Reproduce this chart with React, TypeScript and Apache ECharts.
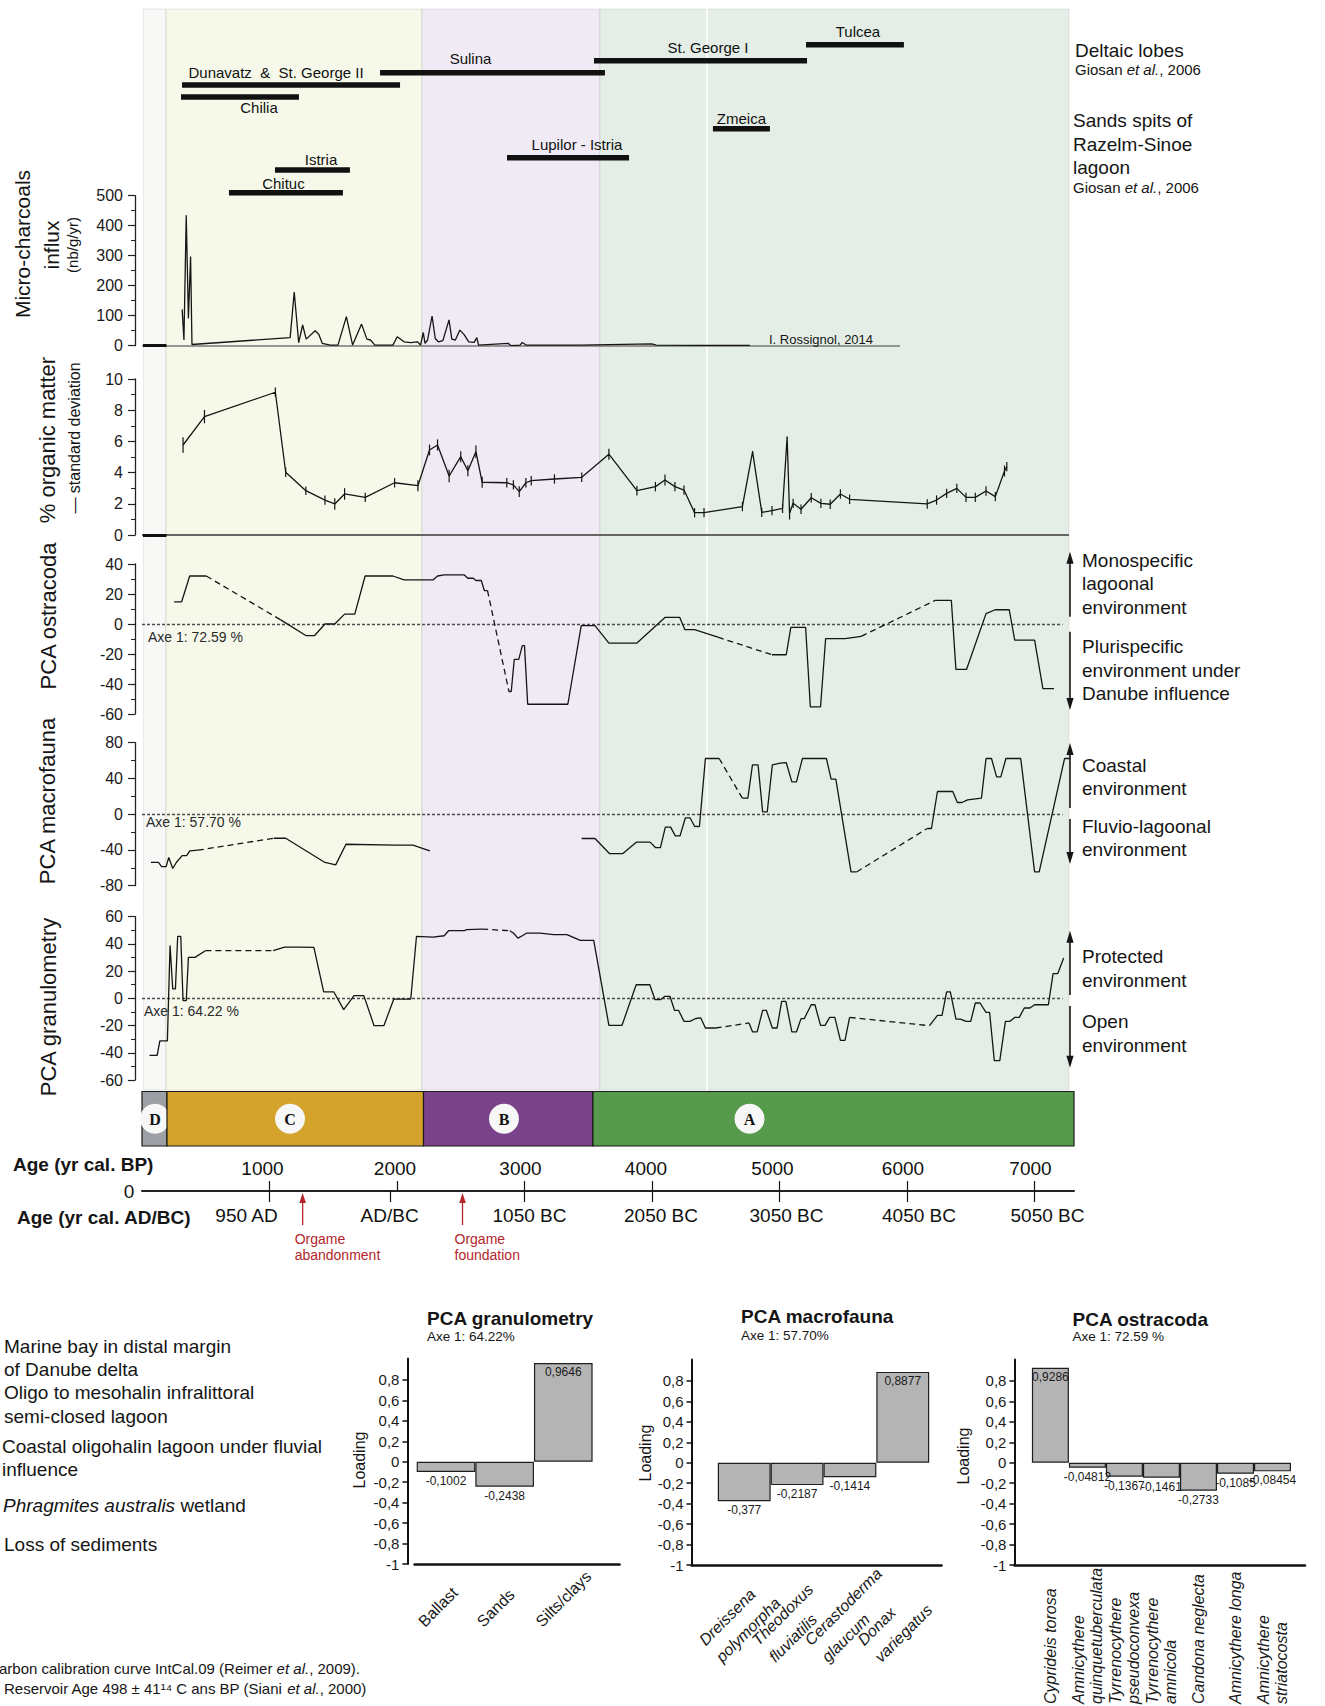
import React, { useEffect, useRef } from 'react';
import * as echarts from 'echarts';

const FONT = '"Liberation Sans", Arial, Helvetica, sans-serif';
const SERIF = '"Liberation Serif", "Times New Roman", serif';
const W = 1325;
const H = 1706;
const AGE_MIN = 0;
const AGE_MAX = 7310;

// ---------------- Deltaic lobes / sand spits (yr cal. BP) ----------------
const lobeNames = ['Dunavatz  &  St. George II', 'Chilia', 'Sulina', 'St. George I', 'Tulcea', 'Zmeica', 'Lupilor - Istria', 'Istria', 'Chituc'];
const lobeStart = [314, 306, 1867, 3545, 5208, 4478, 2863, 1043, 682];
const lobeEnd = [2024, 1231, 3631, 5216, 5976, 4925, 3820, 1631, 1576];

// ---------------- Zones ----------------
const zoneNames = ['D', 'C', 'B', 'A'];
const zoneStart = [0, 196, 2208, 3537];
const zoneEnd = [196, 2208, 3537, 7310];
const zoneLabelAge = [102, 1161, 2839, 4765];
const panelStart = [13, 188, 2196, 3592];
const panelEnd = [188, 2196, 3592, 7271];
const panelDividerAge = 4431;

// ---------------- Archaeological events ----------------
const eventAge = [1260, 2514];
const eventText = [['Orgame', 'abandonment'], ['Orgame', 'foundation']];

// ---------------- Micro-charcoals influx ----------------
const charAge = [315, 329, 347, 364, 381, 392, 1162, 1194, 1229, 1260, 1288, 1358, 1386, 1414, 1477, 1537, 1603, 1652, 1722, 1764, 1792, 1827, 1968, 2002, 2055, 2107, 2160, 2185, 2206, 2220, 2240, 2275, 2300, 2324, 2360, 2408, 2430, 2458, 2493, 2528, 2563, 2605, 2626, 2640, 2871, 2896, 2965, 2983, 3012, 3438, 3998, 4033, 4400, 4768];
const charVal = [121, 19, 435, 91, 297, 4, 27, 179, 10, 69, 22, 50, 38, 8, 2, 2, 97, 2, 72, 22, 19, 2, 2, 30, 13, 10, 13, 2, 44, 8, 19, 99, 24, 13, 17, 86, 22, 19, 52, 36, 13, 11, 27, 2, 8, 0, 2, 11, 2, 2, 6, 2, 1, 1];
const charBaselineEnd = 5945;

// ---------------- % organic matter ----------------
const omAge = [322, 490, 1046, 1127, 1285, 1435, 1512, 1589, 1751, 1981, 2164, 2255, 2318, 2409, 2500, 2556, 2619, 2668, 2861, 2913, 2959, 3011, 3053, 3235, 3449, 3662, 3882, 4027, 4102, 4180, 4251, 4334, 4408, 4709, 4789, 4861, 4941, 5024, 5060, 5079, 5107, 5169, 5249, 5325, 5398, 5478, 5550, 6159, 6232, 6311, 6391, 6463, 6536, 6620, 6693, 6765, 6783];
const omVal = [5.77, 7.59, 9.15, 4.02, 2.84, 2.24, 1.99, 2.63, 2.41, 3.35, 3.16, 5.45, 5.77, 3.78, 5.02, 4.12, 5.34, 3.38, 3.35, 3.21, 2.78, 3.35, 3.48, 3.59, 3.7, 5.18, 2.84, 3.1, 3.53, 3.1, 2.88, 1.43, 1.43, 1.82, 5.34, 1.45, 1.56, 1.71, 6.26, 1.39, 2.03, 1.65, 2.39, 2.03, 1.97, 2.63, 2.29, 1.99, 2.24, 2.67, 2.99, 2.41, 2.41, 2.82, 2.46, 4.1, 4.38];
const omSd = [0.5, 0.43, 0.3, 0.3, 0.27, 0.3, 0.37, 0.37, 0.3, 0.3, 0.35, 0.35, 0.36, 0.4, 0.35, 0.35, 0.4, 0.35, 0.3, 0.3, 0.35, 0.3, 0.3, 0.3, 0.3, 0.35, 0.3, 0.3, 0.35, 0.3, 0.3, 0.3, 0.3, 0.3, 0.05, 0.3, 0.3, 0.3, 0.05, 0.4, 0.3, 0.3, 0.3, 0.3, 0.3, 0.3, 0.3, 0.3, 0.3, 0.3, 0.3, 0.3, 0.3, 0.3, 0.3, 0.35, 0.3];
const omLineEnd = 7271;

// ---------------- PCA ostracoda ----------------
const ostAge = [252, 311, 374, 504, 1085, 1285, 1354, 1435, 1512, 1589, 1669, 1750, 1968, 2055, 2282, 2318, 2370, 2528, 2556, 2598, 2619, 2661, 2685, 2710, 2878, 2896, 2920, 2955, 2983, 3000, 3025, 3340, 3445, 3553, 3662, 3880, 4102, 4218, 4258, 4334, 4517, 4941, 5053, 5089, 5205, 5242, 5322, 5362, 5514, 5641, 6221, 6348, 6384, 6467, 6620, 6692, 6802, 6845, 7001, 7066, 7153];
const ostVal = [14.8, 14.8, 32, 32, 2.9, -7.7, -7.7, 0, 0, 6.6, 6.6, 32, 32, 29.4, 29.4, 32, 32.7, 32.7, 30.5, 30.5, 29, 29, 22.3, 22.3, -45, -45, -23.6, -23.6, -14.4, -14.4, -53.5, -53.5, -1.1, -1.1, -12.8, -12.8, 4.4, 4.4, -3.8, -3.8, -8.8, -20.5, -20.5, -2.2, -2.2, -55.2, -55.2, -9.7, -9.7, -8.2, 15.7, 15.7, -30.3, -30.3, 6.9, 9.5, 9.5, -10.8, -10.8, -43.1, -43.1];
const ostDashed = [3, 23, 40, 49];

// ---------------- PCA macrofauna ----------------
const macAge = [70, 129, 154, 189, 210, 241, 269, 315, 350, 375, 438, 1033, 1127, 1435, 1519, 1600, 1985, 2125, 2258, 3449, 3553, 3666, 3772, 3879, 3985, 4027, 4066, 4105, 4146, 4183, 4220, 4262, 4298, 4334, 4372, 4419, 4527, 4709, 4752, 4788, 4832, 4868, 4904, 4944, 5006, 5053, 5097, 5133, 5180, 5368, 5405, 5442, 5561, 5605, 6159, 6192, 6239, 6359, 6395, 6431, 6475, 6584, 6620, 6663, 6703, 6736, 6776, 6892, 7001, 7037, 7236, 7280];
const macVal = [-54, -54, -58.6, -58.6, -48.5, -60.8, -54, -46.3, -46.3, -41, -40.3, -26.9, -26.9, -54, -56.7, -33.6, -34.7, -34.7, -41, -27.2, -27.2, -44, -44, -31.2, -31.2, -37.3, -37.3, -14.5, -14.5, -24.3, -24.3, -4, -4, -13.5, -13.8, 62.3, 62.3, 17.9, 17.9, 55.2, 55.2, 2.6, 2.6, 55.2, 57.1, 57.8, 36.2, 36.2, 62.3, 62.3, 39.2, 39.2, -64.6, -64.6, -16, -16, 25.4, 25.4, 13.1, 13.1, 16, 17.9, 62.3, 62.3, 41.8, 41.8, 62.3, 62.3, -64.6, -64.6, 62.3, 62.3];
const macDashed = [10, 36, 53];
const macGaps = [18];

// ---------------- PCA granulometry ----------------
const granAge = [59, 119, 140, 199, 220, 241, 262, 280, 304, 322, 347, 364, 416, 497, 1029, 1117, 1225, 1348, 1425, 1505, 1582, 1663, 1740, 1820, 1897, 1975, 2108, 2153, 2282, 2370, 2405, 2528, 2545, 2668, 2885, 2913, 2948, 2983, 3018, 3123, 3228, 3333, 3438, 3543, 3662, 3765, 3876, 3983, 4024, 4066, 4102, 4141, 4177, 4209, 4251, 4298, 4343, 4383, 4419, 4499, 4761, 4789, 4825, 4868, 4897, 4944, 4981, 5017, 5050, 5097, 5133, 5169, 5194, 5249, 5278, 5322, 5357, 5394, 5434, 5478, 5514, 5550, 6177, 6239, 6275, 6311, 6340, 6384, 6420, 6463, 6500, 6536, 6573, 6620, 6648, 6685, 6728, 6772, 6808, 6845, 6881, 6920, 6964, 7001, 7109, 7146, 7182, 7229];
const granVal = [-41.9, -41.9, -31.3, -31.3, 38.9, 6.9, 6.9, 45.6, 45.6, -1.7, -1.7, 30.1, 30.1, 35, 35, 37.7, 37.7, 37.5, 4.7, 4.7, -8.3, 2, 2, -20.1, -20.1, -0.5, -0.5, 45.6, 45, 46, 49.7, 49.7, 50.5, 50.9, 49.7, 48, 44.3, 46, 48, 48, 46.8, 46.8, 42.6, 42.6, -19.8, -19.8, 10, 10, -1, -1, 1.5, 1.5, -8.9, -8.9, -16.9, -16.9, -14.8, -14.4, -21.8, -21.8, -18.1, -24.7, -24.7, -8.8, -8.8, -21.8, -21.8, -2.2, -2.2, -24.7, -24.7, -14.9, -14.9, -4.7, -4.7, -19.8, -19.8, -14, -14, -30.9, -30.9, -14, -20.1, -12.5, -12.5, 4.7, 4.7, -15.2, -15.2, -16.9, -16.9, -3.4, -3.4, -10.3, -10.3, -45.8, -45.8, -16.9, -16.9, -14, -14, -7.1, -7.1, -4.7, -4.7, 18.1, 18.1, 29.6];
const granDashed = [13, 33, 59, 81];
const pcaZeroEnd = 7220;

// ---------------- Age axis ----------------
const bpTicks = [1000, 2000, 3000, 4000, 5000, 6000, 7000];
const calTicks = [1000, 1950, 3000, 4000, 5000, 6000, 7000];
const calLabels = ['950 AD', 'AD/BC', '1050 BC', '2050 BC', '3050 BC', '4050 BC', '5050 BC'];

// ---------------- PCA loadings ----------------
const loadingTicks = [-1, -0.8, -0.6, -0.4, -0.2, 0, 0.2, 0.4, 0.6, 0.8];
const granCats = ['Ballast', 'Sands', 'Silts/clays'];
const granLoad = [-0.1002, -0.2438, 0.9646];
const macroCats = ['Dreissena\npolymorpha', 'Theodoxus\nfluviatilis', 'Cerastoderma\nglaucum', 'Donax\nvariegatus'];
const macroLoad = [-0.377, -0.2187, -0.1414, 0.8877];
const ostraCats = ['Cyprideis torosa', 'Amnicythere\nquinquetuberculata', 'Tyrrenocythere\npseudoconvexa', 'Tyrrenocythere\namnicola', 'Candona neglecta', 'Amnicythere longa', 'Amnicythere\nstriatocosta'];
const ostraLoad = [0.9286, -0.04812, -0.1367, -0.1461, -0.2733, -0.1085, -0.08454];

// ---------------- Layout (pixels) ----------------
const lobeRowY = [85, 97, 72.7, 60.7, 44.7, 128.7, 157.7, 170, 192.7];
const lobeLabelDx = [-15, 19, -22, 7.5, 3, 0, 9, 8.5, -2.5];
const lobeLabelDy = [-13, 10, -14.7, -13, -13, -10.7, -13.7, -11, -9.7];
const bpLabelShift = [-7, -2, -4, -6, -7, -4, -4];
const calLabelShift = [-23, -1, 5, 9, 7, 12, 13];
const zoneColors = ['#9c9fa3', '#d4a32c', '#7a4389', '#569b4b'];
const panelColors = ['#f8f8f7', '#f6f9ea', '#efeaf3', '#e4eee7'];
const PANEL_TOP = 9;
const PANEL_BOTTOM = 1090;
const ZONE_TOP = 1091.5;
const ZONE_BOTTOM = 1146;

function splitLine(ages: number[], vals: number[], dashed: number[], gaps: number[] = []) {
  const solid: any[] = [];
  const dash: any[] = [];
  for (let i = 0; i < ages.length; i++) {
    solid.push([ages[i], vals[i]]);
    if (i < ages.length - 1 && (dashed.includes(i) || gaps.includes(i))) solid.push([ages[i], '-']);
  }
  dashed.forEach((i) => {
    dash.push([ages[i], vals[i]], [ages[i + 1], vals[i + 1]], [ages[i + 1], '-']);
  });
  return { solid, dash };
}

const INK = '#151515';

function txt(x: number, y: number, text: string, o: any = {}) {
  return {
    type: 'text',
    x,
    y,
    rotation: o.rot || 0,
    z: 100,
    silent: true,
    style: {
      text,
      fill: o.color || INK,
      fontSize: o.size || 19,
      fontFamily: o.family || FONT,
      fontWeight: o.weight || 'normal',
      fontStyle: o.italic ? 'italic' : 'normal',
      textAlign: o.align || 'left',
      textVerticalAlign: 'middle',
      rich: o.rich,
    },
  };
}

function arrow(x: number, tip: number, tail: number) {
  const dir = tip < tail ? 1 : -1;
  return [
    { type: 'line', z: 100, silent: true, shape: { x1: x, y1: tip + dir * 8, x2: x, y2: tail }, style: { stroke: INK, lineWidth: 1.6 } },
    { type: 'polygon', z: 100, silent: true, shape: { points: [[x, tip], [x - 3.6, tip + dir * 12], [x + 3.6, tip + dir * 12]] }, style: { fill: INK } },
  ];
}

// rich styles that nudge each age label sideways (padding on one side shifts a centred label)
function shiftRich(shifts: number[]) {
  const rich: any = {};
  shifts.forEach((s, k) => {
    rich['s' + k] = { fontSize: 19, fontFamily: FONT, color: '#111', padding: s < 0 ? [0, -2 * s, 0, 0] : [0, 0, 0, 2 * s] };
  });
  return rich;
}

function buildOption() {
  const ost = splitLine(ostAge, ostVal, ostDashed);
  const mac = splitLine(macAge, macVal, macDashed, macGaps);
  const gran = splitLine(granAge, granVal, granDashed);

  const G = (left: number, top: number, width: number, height: number) => ({ left, top, width, height, containLabel: false, outerBoundsMode: 'none' });
  const hiddenX = (gi: number) => ({ gridIndex: gi, type: 'value', min: AGE_MIN, max: AGE_MAX, show: false });
  const panelY = (gi: number, min: number, max: number, interval: number) => ({
    gridIndex: gi, type: 'value', min, max, interval, offset: 7,
    axisLine: { show: true, onZero: false, lineStyle: { color: '#222', width: 1.3 } },
    axisTick: { show: true, length: 7, lineStyle: { color: '#222', width: 1.2 } },
    minorTick: { show: true, splitNumber: 2, length: 4, lineStyle: { color: '#222', width: 1 } },
    splitLine: { show: false }, minorSplitLine: { show: false },
    axisLabel: { fontSize: 16, color: '#1a1a1a', margin: 12, fontFamily: FONT },
  });
  const comma = (v: number) => String(Math.round(v * 10) / 10).replace('.', ',');
  const loadY = (gi: number, offset: number) => ({
    gridIndex: gi, type: 'value', min: -1, max: 1.01, offset,
    axisLine: { show: true, onZero: false, lineStyle: { color: '#111', width: 2 } },
    axisTick: { show: true, length: 5, customValues: loadingTicks, lineStyle: { color: '#111', width: 1.5 } },
    axisLabel: { customValues: loadingTicks, formatter: comma, fontSize: 15, color: '#1a1a1a', margin: 8, fontFamily: FONT },
    splitLine: { show: false },
  });
  const hiddenLoadY = (gi: number) => ({ gridIndex: gi, type: 'value', min: -1, max: 1.01, show: false });
  const frameX = (gi: number) => ({
    gridIndex: gi, type: 'value', min: 0, max: 1,
    axisLine: { show: true, onZero: false, lineStyle: { color: '#111', width: 2.5 } },
    axisTick: { show: false }, axisLabel: { show: false }, splitLine: { show: false },
  });
  const catX = (gi: number, data: string[], lab: any) => ({
    gridIndex: gi, type: 'category', data,
    axisLine: { show: false }, axisTick: { show: false }, splitLine: { show: false },
    axisLabel: { interval: 0, color: '#1a1a1a', fontSize: 16, fontFamily: FONT, hideOverlap: false, ...lab },
  });

  const solidStyle = { color: INK, width: 1.3 };
  const dashStyle = { color: INK, width: 1.3, type: [6, 4] };
  const zeroMark = {
    silent: true, symbol: ['none', 'none'], label: { show: false }, animation: false,
    lineStyle: { color: '#4d4d4d', width: 1.3, type: [3, 2] },
    data: [[{ coord: [0, 0] }, { coord: [pcaZeroEnd, 0] }]],
  };
  const lineSeries = (idx: number, data: any[], style: any, extra: any = {}) => ({
    type: 'line', xAxisIndex: idx, yAxisIndex: idx, data, symbol: 'none', connectNulls: false,
    lineStyle: style, silent: true, animation: false, z: 5, ...extra,
  });
  const barSeries = (xi: number, yi: number, vals: number[]) => ({
    type: 'bar', xAxisIndex: xi, yAxisIndex: yi, barCategoryGap: '0%', barGap: '0%', silent: true,
    data: vals.map((v) => ({ value: v, label: { position: v >= 0 ? 'insideTop' : 'bottom' } })),
    itemStyle: { color: '#b4b4b4', borderColor: '#1e1e1e', borderWidth: 1.2 },
    label: { show: true, fontSize: 12, color: '#1a1a1a', distance: 3, fontFamily: FONT, formatter: (p: any) => String(p.value).replace('.', ',') },
  });

  const series: any[] = [
    // panel backgrounds
    {
      type: 'custom', xAxisIndex: 0, yAxisIndex: 0, z: -1, silent: true, clip: false,
      data: panelStart.map((s, i) => [s, panelEnd[i]]),
      renderItem: (params: any, api: any) => {
        const i = params.dataIndex;
        const a = api.coord([api.value(0), PANEL_TOP]);
        const b = api.coord([api.value(1), PANEL_BOTTOM]);
        const children: any[] = [
          { type: 'rect', shape: { x: a[0], y: a[1], width: b[0] - a[0], height: b[1] - a[1] }, style: { fill: panelColors[i], stroke: 'rgba(0,0,0,0.09)', lineWidth: 1 } },
        ];
        if (i === panelStart.length - 1) {
          const d = api.coord([panelDividerAge, PANEL_TOP]);
          children.push({ type: 'line', shape: { x1: d[0], y1: a[1], x2: d[0], y2: b[1] }, style: { stroke: '#ffffff', lineWidth: 1.5 } });
        }
        return { type: 'group', children };
      },
    },
    // zone bar
    {
      type: 'custom', xAxisIndex: 0, yAxisIndex: 0, z: 3, silent: true, clip: false,
      data: zoneStart.map((s, i) => [s, zoneEnd[i]]),
      renderItem: (params: any, api: any) => {
        const i = params.dataIndex;
        const a = api.coord([api.value(0), ZONE_TOP]);
        const b = api.coord([api.value(1), ZONE_BOTTOM]);
        const c = api.coord([zoneLabelAge[i], (ZONE_TOP + ZONE_BOTTOM) / 2]);
        return {
          type: 'group',
          children: [
            { type: 'rect', shape: { x: a[0], y: a[1], width: b[0] - a[0], height: b[1] - a[1] }, style: { fill: zoneColors[i], stroke: '#1a1a1a', lineWidth: 1.2 } },
            { type: 'circle', shape: { cx: c[0], cy: c[1], r: 15 }, style: { fill: '#f7f7f7' } },
            { type: 'text', x: c[0], y: c[1] + 1, style: { text: zoneNames[i], fill: '#111', fontSize: 16, fontWeight: 'bold', fontFamily: SERIF, textAlign: 'center', textVerticalAlign: 'middle' } },
          ],
        };
      },
    },
    // lobes and spits
    {
      type: 'custom', xAxisIndex: 0, yAxisIndex: 0, z: 4, silent: true, clip: false,
      data: lobeStart.map((s, i) => [s, lobeEnd[i]]),
      renderItem: (params: any, api: any) => {
        const i = params.dataIndex;
        const a = api.coord([api.value(0), lobeRowY[i]]);
        const b = api.coord([api.value(1), lobeRowY[i]]);
        return {
          type: 'group',
          children: [
            { type: 'rect', shape: { x: a[0], y: a[1] - 2.7, width: b[0] - a[0], height: 5.4 }, style: { fill: '#111' } },
            { type: 'text', x: (a[0] + b[0]) / 2 + lobeLabelDx[i], y: a[1] + lobeLabelDy[i], style: { text: lobeNames[i], fill: '#111', fontSize: 15, fontFamily: FONT, textAlign: 'center', textVerticalAlign: 'middle' } },
          ],
        };
      },
    },
    // events (red arrows)
    {
      type: 'custom', xAxisIndex: 0, yAxisIndex: 0, z: 4, silent: true, clip: false,
      data: eventAge.map((a) => [a, 1193]),
      renderItem: (params: any, api: any) => {
        const i = params.dataIndex;
        const p = api.coord([api.value(0), api.value(1)]);
        const red = '#b3262b';
        return {
          type: 'group',
          children: [
            { type: 'line', shape: { x1: p[0], y1: p[1] + 8, x2: p[0], y2: p[1] + 32 }, style: { stroke: red, lineWidth: 1.3 } },
            { type: 'polygon', shape: { points: [[p[0], p[1]], [p[0] - 3.3, p[1] + 10], [p[0] + 3.3, p[1] + 10]] }, style: { fill: red } },
            { type: 'text', x: p[0] - 8, y: p[1] + 46, style: { text: eventText[i][0], fill: red, fontSize: 14, fontFamily: FONT, textAlign: 'left', textVerticalAlign: 'middle' } },
            { type: 'text', x: p[0] - 8, y: p[1] + 62, style: { text: eventText[i][1], fill: red, fontSize: 14, fontFamily: FONT, textAlign: 'left', textVerticalAlign: 'middle' } },
          ],
        };
      },
    },
    // charcoal
    lineSeries(1, charAge.map((a, i) => [a, charVal[i]]), solidStyle, {
      markLine: {
        silent: true, symbol: ['none', 'none'], label: { show: false }, animation: false,
        lineStyle: { color: '#777', width: 1.5, type: 'solid' },
        data: [
          [{ coord: [0, 0], lineStyle: { color: '#777', width: 1.5, type: 'solid' } }, { coord: [charBaselineEnd, 0] }],
          [{ coord: [8, 0], lineStyle: { color: '#111', width: 3, type: 'solid' } }, { coord: [192, 0] }],
        ],
      },
    }),
    // organic matter
    lineSeries(2, omAge.map((a, i) => [a, omVal[i]]), solidStyle, {
      markLine: {
        silent: true, symbol: ['none', 'none'], label: { show: false }, animation: false,
        lineStyle: { color: '#666', width: 2, type: 'solid' },
        data: [
          [{ coord: [0, 0], lineStyle: { color: '#666', width: 2, type: 'solid' } }, { coord: [omLineEnd, 0] }],
          [{ coord: [8, 0], lineStyle: { color: '#111', width: 3, type: 'solid' } }, { coord: [192, 0] }],
        ],
      },
    }),
    {
      type: 'custom', xAxisIndex: 2, yAxisIndex: 2, z: 6, silent: true,
      data: omAge.map((a, i) => [a, omVal[i], omSd[i]]),
      encode: { x: 0, y: 1 },
      renderItem: (params: any, api: any) => {
        const x = api.value(0);
        const y = api.value(1);
        const sd = api.value(2);
        const p1 = api.coord([x, y + sd]);
        const p2 = api.coord([x, y - sd]);
        return { type: 'line', shape: { x1: p1[0], y1: p1[1], x2: p2[0], y2: p2[1] }, style: { stroke: INK, lineWidth: 1.2 } };
      },
    },
    lineSeries(3, ost.solid, solidStyle, { markLine: zeroMark }),
    lineSeries(3, ost.dash, dashStyle),
    lineSeries(4, mac.solid, solidStyle, { markLine: zeroMark }),
    lineSeries(4, mac.dash, dashStyle),
    lineSeries(5, gran.solid, solidStyle, { markLine: zeroMark }),
    lineSeries(5, gran.dash, dashStyle),
    barSeries(9, 8, granLoad),
    barSeries(11, 10, macroLoad),
    barSeries(13, 12, ostraLoad),
  ];

  const rot = Math.PI / 2;
  const graphics: any[] = [
    // right-hand titles for lobes
    txt(1075, 50, 'Deltaic lobes', { size: 19 }),
    txt(1075, 69, 'Giosan {i|et al.}, 2006', { size: 15, rich: { i: { fontStyle: 'italic', fontSize: 15, fontFamily: FONT } } }),
    txt(1073, 120.7, 'Sands spits of', { size: 19 }),
    txt(1073, 144, 'Razelm-Sinoe', { size: 19 }),
    txt(1073, 167.7, 'lagoon', { size: 19 }),
    txt(1073, 187.3, 'Giosan {i|et al.}, 2006', { size: 15, rich: { i: { fontStyle: 'italic', fontSize: 15, fontFamily: FONT } } }),
    txt(769, 339, 'I. Rossignol, 2014', { size: 13 }),
    // y titles
    txt(22, 244, 'Micro-charcoals', { size: 21, rot, align: 'center' }),
    txt(51, 245, 'influx', { size: 21, rot, align: 'center' }),
    txt(72, 245, '(nb/g/yr)', { size: 15, rot, align: 'center' }),
    txt(47, 440, '% organic matter', { size: 22, rot, align: 'center' }),
    txt(74, 438, '— standard deviation', { size: 16, rot, align: 'center' }),
    txt(48, 616, 'PCA ostracoda', { size: 22, rot, align: 'center' }),
    txt(47, 801, 'PCA macrofauna', { size: 22, rot, align: 'center' }),
    txt(48, 1007, 'PCA granulometry', { size: 22, rot, align: 'center' }),
    // axe labels
    txt(148, 636.7, 'Axe 1: 72.59 %', { size: 14, color: '#2a2a2a' }),
    txt(146, 822, 'Axe 1: 57.70 %', { size: 14, color: '#2a2a2a' }),
    txt(144, 1010.7, 'Axe 1: 64.22 %', { size: 14, color: '#2a2a2a' }),
    // right annotations
    ...arrow(1070, 551.7, 616.7), ...arrow(1070, 710, 631.7),
    txt(1082, 560, 'Monospecific'), txt(1082, 583, 'lagoonal'), txt(1082, 607, 'environment'),
    txt(1082, 646.7, 'Plurispecific'), txt(1082, 670, 'environment under'), txt(1082, 693, 'Danube influence'),
    ...arrow(1070, 743, 808), ...arrow(1070, 864, 819),
    txt(1082, 765, 'Coastal'), txt(1082, 788, 'environment'),
    txt(1082, 826.7, 'Fluvio-lagoonal'), txt(1082, 849, 'environment'),
    ...arrow(1070, 930.7, 995), ...arrow(1070, 1067.7, 1006),
    txt(1082, 956.7, 'Protected'), txt(1082, 980, 'environment'),
    txt(1082, 1021.7, 'Open'), txt(1082, 1045, 'environment'),
    // age axis
    txt(13, 1164, 'Age (yr cal. BP)', { weight: 'bold', size: 19 }),
    txt(17, 1217, 'Age (yr cal. AD/BC)', { weight: 'bold', size: 19 }),
    txt(129, 1191, '0', { size: 19, align: 'center' }),
    // legend
    txt(4, 1346.7, 'Marine bay in distal margin'),
    txt(4, 1369, 'of Danube delta'),
    txt(4, 1392.7, 'Oligo to mesohalin infralittoral'),
    txt(4, 1416, 'semi-closed lagoon'),
    txt(2, 1446, 'Coastal oligohalin lagoon under fluvial'),
    txt(2, 1469, 'influence'),
    txt(3, 1505, '{i|Phragmites australis} wetland', { rich: { i: { fontStyle: 'italic', fontSize: 19, fontFamily: FONT } } }),
    txt(4, 1544, 'Loss of sediments'),
    // footnotes
    txt(-1, 1668, 'arbon calibration curve IntCal.09 (Reimer {i|et al.}, 2009).', { size: 15, rich: { i: { fontStyle: 'italic', fontSize: 15, fontFamily: FONT } } }),
    txt(4, 1688, 'Reservoir Age 498 ± 41¹⁴ C ans BP (Siani {i|et al.}, 2000)', { size: 15, rich: { i: { fontStyle: 'italic', fontSize: 15, fontFamily: FONT } } }),
    // bar chart titles
    txt(427, 1318, 'PCA granulometry', { weight: 'bold', size: 19 }),
    txt(427, 1336.7, 'Axe 1: 64.22%', { size: 13.5 }),
    txt(741, 1316.7, 'PCA macrofauna', { weight: 'bold', size: 19 }),
    txt(741, 1335.7, 'Axe 1: 57.70%', { size: 13.5 }),
    txt(1072.5, 1319, 'PCA ostracoda', { weight: 'bold', size: 19 }),
    txt(1072.5, 1336, 'Axe 1: 72.59 %', { size: 13.5 }),
    txt(359, 1460, 'Loading', { size: 16, rot, align: 'center' }),
    txt(645, 1453, 'Loading', { size: 16, rot, align: 'center' }),
    txt(963, 1456, 'Loading', { size: 16, rot, align: 'center' }),
  ];

  return {
    animation: false,
    backgroundColor: '#ffffff',
    textStyle: { fontFamily: FONT },
    grid: [
      G(142, 0, 932, H),
      G(142, 195.7, 932, 150),
      G(142, 379, 932, 156),
      G(142, 564, 932, 150),
      G(142, 742.7, 932, 143),
      G(142, 916.7, 932, 163.3),
      G(142, 1190, 932, 1),
      G(414.6, 1358.4, 204.9, 205.6),
      G(416.7, 1358.4, 175.9, 205.6),
      G(691.5, 1359.4, 250, 205.6),
      G(717.8, 1359.4, 211.4, 205.6),
      G(1014.4, 1359.4, 290.6, 205.6),
      G(1031.9, 1359.4, 259.1, 205.6),
      // label-only grids for the slanted category labels
      G(416.7 - 25, 1358.4, 175.9, 205.6),
      G(717.8 - 34, 1359.4, 211.4, 205.6),
    ],
    xAxis: [
      hiddenX(0), hiddenX(1), hiddenX(2), hiddenX(3), hiddenX(4), hiddenX(5),
      {
        gridIndex: 6, type: 'value', position: 'top', min: AGE_MIN, max: AGE_MAX,
        axisLine: { show: false },
        axisTick: { show: true, customValues: bpTicks, length: 10, lineStyle: { color: '#111', width: 1.2 } },
        axisLabel: {
          show: true, customValues: bpTicks, margin: 12,
          formatter: (v: number) => { const k = bpTicks.indexOf(v); return k >= 0 ? `{s${k}|${v}}` : ''; },
          rich: shiftRich(bpLabelShift), fontSize: 19, color: '#111', fontFamily: FONT,
        },
        splitLine: { show: false },
      },
      {
        gridIndex: 6, type: 'value', position: 'bottom', min: AGE_MIN, max: AGE_MAX,
        axisLine: { show: true, onZero: false, lineStyle: { color: '#222', width: 2 } },
        axisTick: { show: true, customValues: calTicks, length: 11, lineStyle: { color: '#111', width: 1.2 } },
        axisLabel: {
          show: true, customValues: calTicks, margin: 15,
          formatter: (v: number) => { const k = calTicks.indexOf(v); return k >= 0 ? `{s${k}|${calLabels[k]}}` : ''; },
          rich: shiftRich(calLabelShift), fontSize: 19, color: '#111', fontFamily: FONT,
        },
        splitLine: { show: false },
      },
      frameX(7),
      catX(8, granCats, { show: false }),
      frameX(9),
      catX(10, macroCats, { show: false }),
      frameX(11),
      catX(12, ostraCats, { rotate: 90, align: 'left', verticalAlign: 'middle', margin: 139, fontStyle: 'italic', lineHeight: 18 }),
      catX(13, granCats, { rotate: 45, align: 'left', verticalAlign: 'middle', margin: 60 }),
      catX(14, macroCats, { rotate: 45, align: 'left', verticalAlign: 'middle', margin: 86, fontStyle: 'italic', lineHeight: 24 }),
    ],
    yAxis: [
      { gridIndex: 0, type: 'value', min: 0, max: H, inverse: true, show: false },
      panelY(1, 0, 500, 100),
      panelY(2, 0, 10, 2),
      panelY(3, -60, 40, 20),
      panelY(4, -80, 80, 40),
      panelY(5, -60, 60, 20),
      { gridIndex: 6, type: 'value', min: 0, max: 1, show: false },
      loadY(7, 7.2), hiddenLoadY(8),
      loadY(9, 0), hiddenLoadY(10),
      loadY(11, 0), hiddenLoadY(12),
      hiddenLoadY(13), hiddenLoadY(14),
    ],
    series,
    graphic: { elements: graphics },
  };
}

export default function App() {
  const ref = useRef<HTMLDivElement>(null);
  useEffect(() => {
    if (!ref.current) return;
    const chart = echarts.init(ref.current, null, { renderer: 'svg', width: W, height: H });
    chart.setOption(buildOption() as any);
    return () => chart.dispose();
  }, []);
  return <div ref={ref} style={{ position: 'absolute', left: 0, top: 0, width: W, height: H, background: '#fff' }} />;
}
